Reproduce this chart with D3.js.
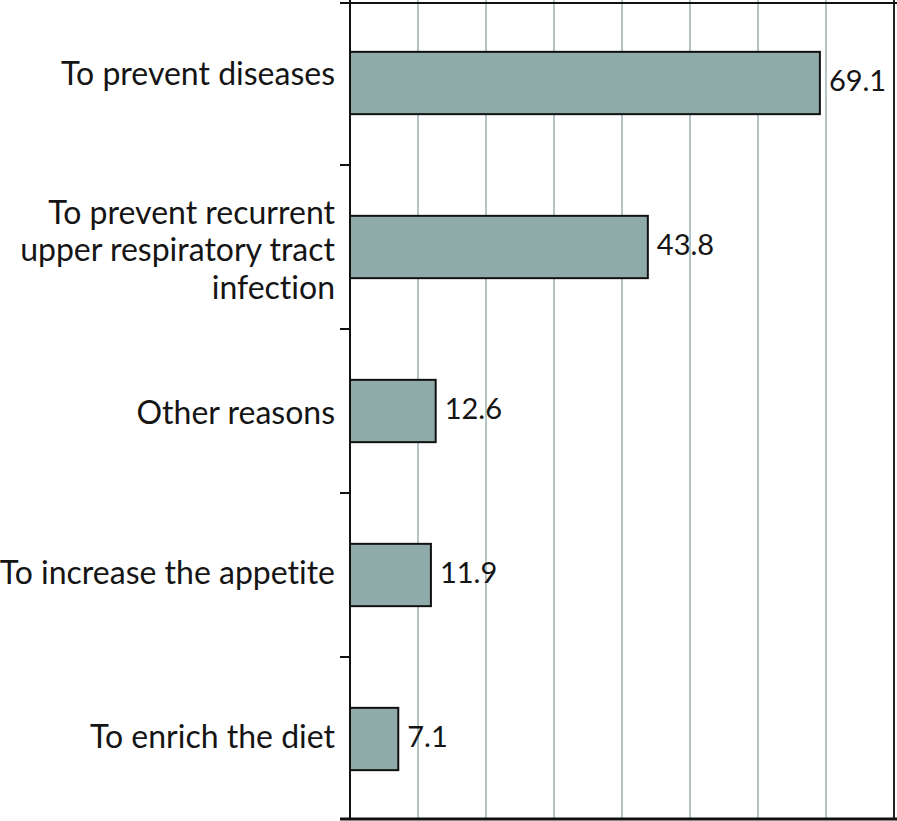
<!DOCTYPE html>
<html>
<head>
<meta charset="utf-8">
<script src="https://cdn.jsdelivr.net/npm/d3@7/dist/d3.min.js"></script>
<style>
  html, body { margin: 0; padding: 0; background: #fff; }
  svg { display: block; }
  text { font-family: Lato, "Open Sans", sans-serif; fill: #151515; font-variant-ligatures: none; font-weight: 400; }
</style>
</head>
<body>
<svg id="chart" width="897" height="821"></svg>
<script>
// ---- data ----
const categories = [
  "To prevent diseases",
  "To prevent recurrent\nupper respiratory tract\ninfection",
  "Other reasons",
  "To increase the appetite",
  "To enrich the diet"
];
const values = [69.1, 43.8, 12.6, 11.9, 7.1];
const valueLabels = ["69.1", "43.8", "12.6", "11.9", "7.1"];
const xTicks = [0, 10, 20, 30, 40, 50, 60, 70, 80];

// ---- layout ----
const W = 897, H = 821;
const plotLeft = 350, plotRight = 894, plotTop = 3, plotBottom = 819;
const labelShift = [-7, 0, 4, 0, 0]; // per-label vertical nudge as in reference

const svg = d3.select("#chart");

const x = d3.scaleLinear().domain([0, 80]).range([plotLeft, plotRight]);
const y = d3.scaleBand().domain(categories).range([1, 821])
  .paddingInner(0.62).paddingOuter(0.31);

// gridlines
svg.append("g").selectAll("line")
  .data(xTicks.filter(t => t > 0 && t < 80))
  .join("line")
  .attr("x1", d => x(d)).attr("x2", d => x(d))
  .attr("y1", 0).attr("y2", plotBottom)
  .attr("stroke", "#b2c6c5").attr("stroke-width", 2);

// right frame (80)
svg.append("line")
  .attr("x1", x(80)).attr("x2", x(80))
  .attr("y1", 0).attr("y2", plotBottom)
  .attr("stroke", "#222").attr("stroke-width", 2);

// top & bottom frame lines
svg.append("line")
  .attr("x1", plotLeft - 10).attr("x2", W)
  .attr("y1", plotTop).attr("y2", plotTop)
  .attr("stroke", "#111").attr("stroke-width", 2);
svg.append("line")
  .attr("x1", plotLeft - 10).attr("x2", W)
  .attr("y1", plotBottom).attr("y2", plotBottom)
  .attr("stroke", "#111").attr("stroke-width", 3);

// bars
svg.append("g").selectAll("rect")
  .data(categories)
  .join("rect")
  .attr("x", x(0))
  .attr("y", d => y(d))
  .attr("width", (d, i) => x(values[i]) - x(0))
  .attr("height", y.bandwidth())
  .attr("fill", "#8eaaa9")
  .attr("stroke", "#111")
  .attr("stroke-width", 2);

// left axis line
svg.append("line")
  .attr("x1", plotLeft).attr("x2", plotLeft)
  .attr("y1", 0).attr("y2", plotBottom)
  .attr("stroke", "#111").attr("stroke-width", 2);

// left ticks at band boundaries
const boundaries = categories.slice(1).map(c => y(c) - (y.step() - y.bandwidth()) / 2);
svg.append("g").selectAll("line")
  .data(boundaries)
  .join("line")
  .attr("x1", plotLeft - 10).attr("x2", plotLeft)
  .attr("y1", d => d).attr("y2", d => d)
  .attr("stroke", "#111").attr("stroke-width", 2);

// category labels
const lineH = 37.5;
svg.append("g").selectAll("text")
  .data(categories)
  .join("text")
  .attr("text-anchor", "end")
  .attr("font-size", 32)
  .each(function(d, i) {
    const lines = d.split("\n");
    const cy = y(d) + y.bandwidth() / 2;
    const first = lines.length === 1 ? cy + 9 : cy + 14 - lineH * (lines.length - 1) / 2;
    const t = d3.select(this);
    lines.forEach((ln, k) => {
      t.append("tspan")
        .attr("x", 335)
        .attr("y", first + k * lineH + labelShift[i])
        .text(ln);
    });
  });

// value labels
svg.append("g").selectAll("text")
  .data(categories)
  .join("text")
  .attr("x", (d, i) => x(values[i]) + 9)
  .attr("y", d => y(d) + y.bandwidth() / 2 + 8)
  .attr("font-size", 29)
  .text((d, i) => valueLabels[i]);
</script>
</body>
</html>
